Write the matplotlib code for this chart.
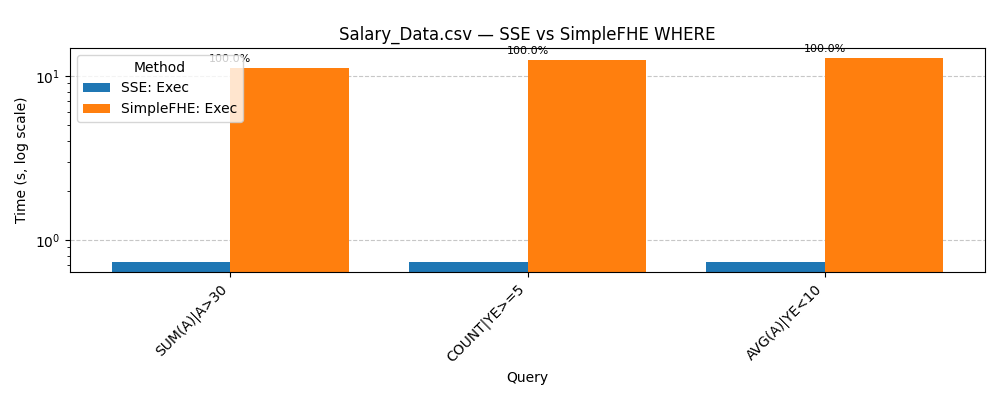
import matplotlib
matplotlib.use("Agg")
import matplotlib.pyplot as plt
import numpy as np

queries = ["SUM(A)|A>30", "COUNT|YE>=5", "AVG(A)|YE<10"]
sse_exec = [0.734, 0.734, 0.734]
fhe_exec = [11.2, 12.5, 12.9]
pct_labels = ["100.0%", "100.0%", "100.0%"]

fig, ax = plt.subplots(figsize=(10, 4), dpi=100)
x = np.arange(len(queries))
w = 0.4
ax.bar(x - w / 2, sse_exec, w, label="SSE: Exec", color="#1f77b4")
ax.bar(x + w / 2, fhe_exec, w, label="SimpleFHE: Exec", color="#ff7f0e")
ax.set_yscale("log")
ax.set_ylim(0.638, 14.8)
for xi, v, lab in zip(x, fhe_exec, pct_labels):
    ax.text(xi, v * 1.06, lab, ha="center", va="bottom", fontsize=8)
ax.set_xticks(x)
ax.set_xticklabels(queries, rotation=45, ha="right")
ax.set_xlabel("Query")
ax.set_ylabel("Time (s, log scale)")
ax.set_title("Salary_Data.csv — SSE vs SimpleFHE WHERE")
ax.grid(axis="y", linestyle="--", alpha=0.7)
ax.set_axisbelow(True)
ax.legend(title="Method", loc="upper left")
fig.subplots_adjust(left=0.07, right=0.985, top=0.88, bottom=0.32)
fig.savefig("out.png")
